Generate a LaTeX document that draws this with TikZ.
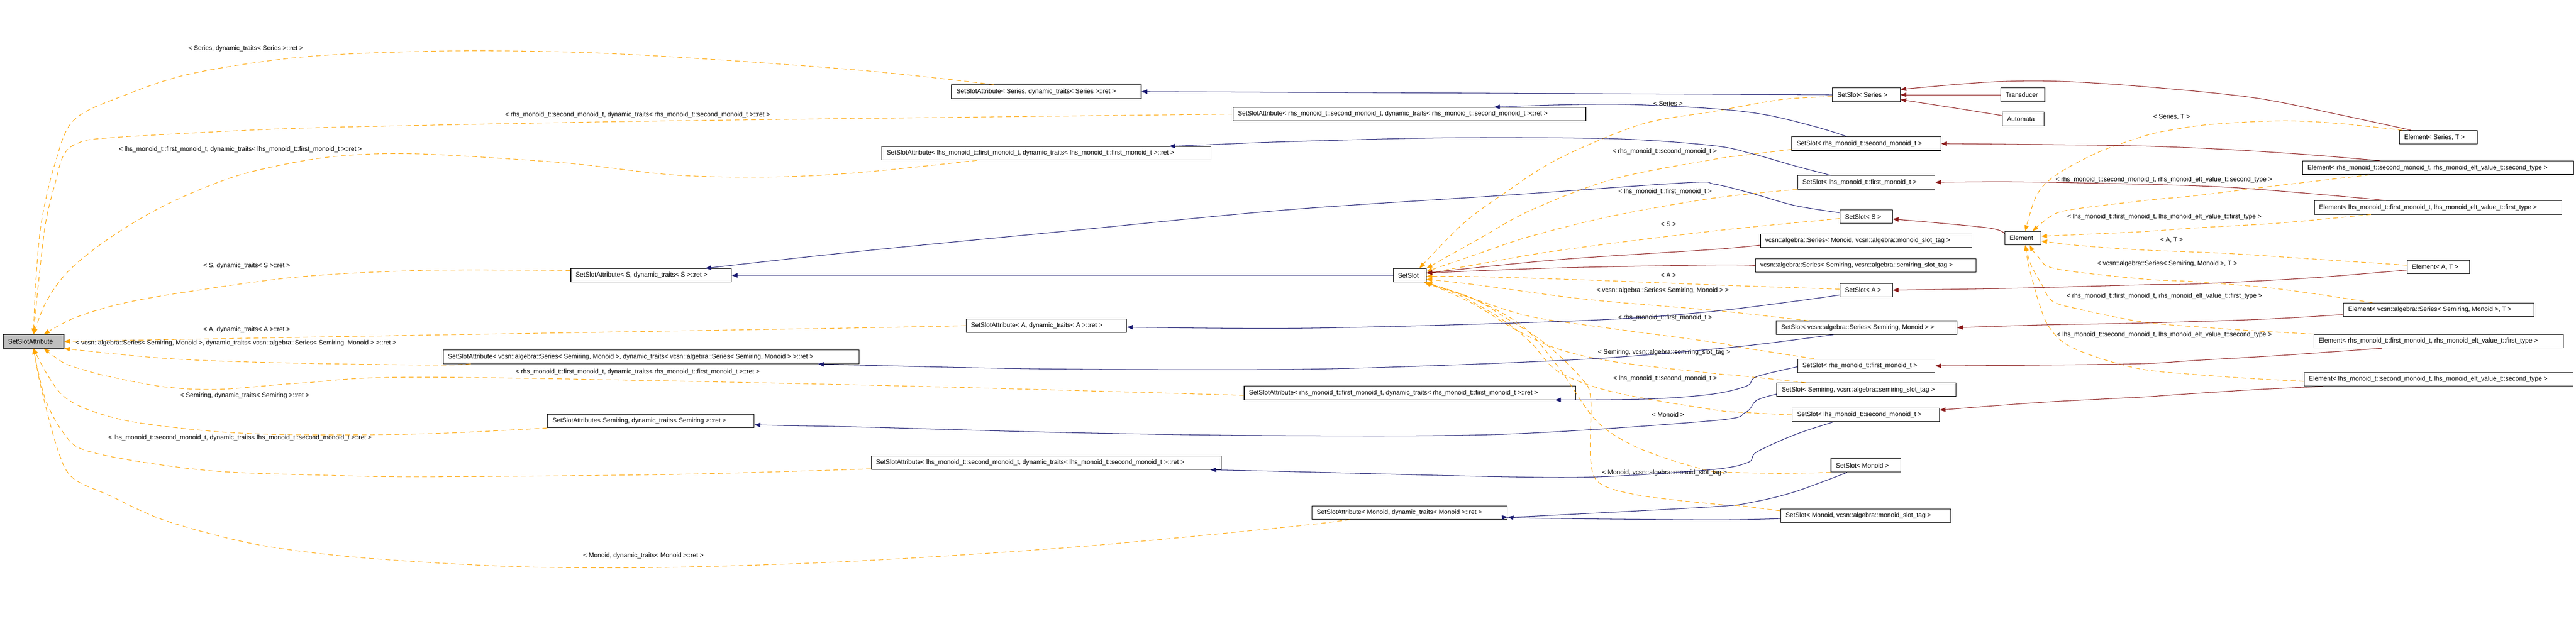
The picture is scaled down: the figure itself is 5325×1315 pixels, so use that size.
\documentclass[tikz,border=0pt]{standalone}
\usepackage{fontspec}
\setmainfont{Liberation Sans}
\usetikzlibrary{arrows.meta}
\definecolor{navyb}{HTML}{191970}
\definecolor{dred}{HTML}{8B1A1A}
\definecolor{orng}{HTML}{FFA500}
\definecolor{gfill}{HTML}{BFBFBF}
\newcommand\nf{\fontsize{13.3}{15}\selectfont}
\newcommand\mynode[6][]{\node[box,#1] (#2) at (#3,#4) {\makebox[#5pt][l]{#6}};}
\begin{document}
\begin{tikzpicture}[x=1pt,y=-1pt,
 box/.style={draw=black, line width=1.2pt, minimum height=28pt, inner xsep=10pt, inner ysep=0pt, font=\nf},
 lbl/.style={font=\nf, inner sep=0pt},
 myarrow/.style={-{Triangle[length=12pt,width=9pt]}},
 tmpl/.style={draw=orng, line width=1.1pt, dash pattern=on 10pt off 7pt, myarrow},
 pub/.style={draw=navyb, line width=1.1pt, myarrow},
 priv/.style={draw=dred, line width=1.1pt, myarrow},
 sm/.style={smooth, tension=0.55}]
\fill[white] (0,0) rectangle (5325,1315);
\useasboundingbox (0,0) rectangle (5325,1315);

% nodes
\mynode[fill=gfill]{base}{69.5}{706}{105}{SetSlotAttribute}
\mynode{SAS}{1346}{569.5}{312}{SetSlotAttribute< S, dynamic\_traits< S >::ret >}
\mynode{SAvcsn}{1346}{738}{840}{SetSlotAttribute< vcsn::algebra::Series< Semiring, Monoid >, dynamic\_traits< vcsn::algebra::Series< Semiring, Monoid > >::ret >}
\mynode{SASemiring}{1345.5}{870.5}{407}{SetSlotAttribute< Semiring, dynamic\_traits< Semiring >::ret >}
\mynode{SASeries}{2163}{189.5}{372}{SetSlotAttribute< Series, dynamic\_traits< Series >::ret >}
\mynode{SArhsB}{2913.5}{236}{709}{SetSlotAttribute< rhs\_monoid\_t::second\_monoid\_t, dynamic\_traits< rhs\_monoid\_t::second\_monoid\_t >::ret >}
\mynode{SAlhsA}{2163}{317}{660}{SetSlotAttribute< lhs\_monoid\_t::first\_monoid\_t, dynamic\_traits< lhs\_monoid\_t::first\_monoid\_t >::ret >}
\mynode{SAA}{2163}{673.5}{312}{SetSlotAttribute< A, dynamic\_traits< A >::ret >}
\mynode{SAlhsB}{2163}{957}{704}{SetSlotAttribute< lhs\_monoid\_t::second\_monoid\_t, dynamic\_traits< lhs\_monoid\_t::second\_monoid\_t >::ret >}
\mynode{SArhsA}{2914.5}{812.5}{665}{SetSlotAttribute< rhs\_monoid\_t::first\_monoid\_t, dynamic\_traits< rhs\_monoid\_t::first\_monoid\_t >::ret >}
\mynode{SAMonoid}{2914}{1060}{384}{SetSlotAttribute< Monoid, dynamic\_traits< Monoid >::ret >}
\mynode{SSlot}{2914}{569.5}{48}{SetSlot}
\mynode{SSSeries}{3858}{196}{120}{SetSlot< Series >}
\mynode{Trans}{4181.5}{196}{71}{Transducer}
\mynode{Autom}{4182}{246}{66}{Automata}
\mynode{SSrhsB}{3858}{297}{288}{SetSlot< rhs\_monoid\_t::second\_monoid\_t >}
\mynode{SSlhsA}{3858}{377}{264}{SetSlot< lhs\_monoid\_t::first\_monoid\_t >}
\mynode{SSS}{3858}{448}{88}{SetSlot< S >}
\mynode{SerMonoid}{3857.5}{498}{417}{vcsn::algebra::Series< Monoid, vcsn::algebra::monoid\_slot\_tag >}
\mynode{SerSemiring}{3857}{549}{436}{vcsn::algebra::Series< Semiring, vcsn::algebra::semiring\_slot\_tag >}
\mynode{SSA}{3858}{600}{88}{SetSlot< A >}
\mynode{Elem}{4181.5}{492.5}{55}{Element}
\mynode{SSvcsn}{3858.5}{677.5}{353}{SetSlot< vcsn::algebra::Series< Semiring, Monoid > >}
\mynode{SSrhsA}{3858}{756.5}{264}{SetSlot< rhs\_monoid\_t::first\_monoid\_t >}
\mynode{SSSemiring}{3858}{806}{350}{SetSlot< Semiring, vcsn::algebra::semiring\_slot\_tag >}
\mynode{SSlhsB}{3857}{858}{284}{SetSlot< lhs\_monoid\_t::second\_monoid\_t >}
\mynode{SSMonoid}{3857}{962.5}{124}{SetSlot< Monoid >}
\mynode{SSMonoidTag}{3857}{1066.5}{332}{SetSlot< Monoid, vcsn::algebra::monoid\_slot\_tag >}
\mynode{ESeries}{5040.5}{284}{141}{Element< Series, T >}
\mynode{ErhsB}{5040}{347}{540}{Element< rhs\_monoid\_t::second\_monoid\_t, rhs\_monoid\_elt\_value\_t::second\_type >}
\mynode{ElhsA}{5040}{429}{492}{Element< lhs\_monoid\_t::first\_monoid\_t, lhs\_monoid\_elt\_value\_t::first\_type >}
\mynode{EA}{5040.5}{552.5}{109}{Element< A, T >}
\mynode{Evcsn}{5041}{640.5}{374}{Element< vcsn::algebra::Series< Semiring, Monoid >, T >}
\mynode{ErhsA}{5041}{705.5}{496}{Element< rhs\_monoid\_t::first\_monoid\_t, rhs\_monoid\_elt\_value\_t::first\_type >}
\mynode{ElhsB}{5041}{784.5}{536}{Element< lhs\_monoid\_t::second\_monoid\_t, lhs\_monoid\_elt\_value\_t::second\_type >}

% template edges into SetSlotAttribute
\draw[tmpl] plot[sm] coordinates {([xshift=-109pt]SASeries.north) (1775,145) (1396,118) (1152,107) (890,106) (624,118) (397,152) (255,198) (153,248) (114,337) (85,463) (73,600) (base.north)};
\draw[tmpl] plot[sm] coordinates {(SArhsB.west) (1775,245) (1316,251) (885,259) (568,267) (227,285) (159,297) (131,322) (114,379) (94,463) (78,600) (base.north)};
\draw[tmpl] plot[sm] coordinates {([xshift=-143pt]SAlhsA.south) (1775,357) (1595,366) (1396,362) (1169,337) (885,319) (738,320) (624,333) (482,366) (340,425) (227,492) (142,560) (95,625) (base.north)};
\draw[tmpl] plot[sm] coordinates {([yshift=10pt]SAS.west) (885,559) (624,572) (397,602) (255,627) (155,657) ([xshift=21pt]base.north)};
\draw[tmpl] plot[sm] coordinates {(SAA.west) (1775,678) (885,693) (base.east)};
\draw[tmpl] plot[sm] coordinates {([xshift=-373pt]SAvcsn.south) (890,755) (568,750) (340,741) (base.south east)};
\draw[tmpl] plot[sm] coordinates {([yshift=-5pt]SArhsA.west) (1775,796) (885,780) (624,792) (454,805) (340,800) (227,779) (170,764) (131,750) ([xshift=21pt]base.south)};
\draw[tmpl] plot[sm] coordinates {(SASemiring.south west) (885,897) (624,899) (454,893) (284,874) (187,849) (131,819) (95,770) (base.south)};
\draw[tmpl] plot[sm] coordinates {([yshift=2pt]SAlhsB.south west) (1396,981) (885,986) (681,983) (454,975) (284,954) (170,929) (131,895) (96,832) (77,760) (base.south)};
\draw[tmpl] plot[sm] coordinates {([xshift=-123pt]SAMonoid.south) (2650,1091) (2224,1131) (1775,1160) (1396,1173) (1112,1173) (885,1163) (681,1147) (511,1122) (340,1076) (227,1025) (150,988) (119,929) (85,802) (base.south)};

\node[lbl] (l1) at (508,100) {< Series, dynamic\_traits< Series >::ret >};
\node[lbl] (l2) at (1318,238) {< rhs\_monoid\_t::second\_monoid\_t, dynamic\_traits< rhs\_monoid\_t::second\_monoid\_t >::ret >};
\node[lbl] (l3) at (497,309) {< lhs\_monoid\_t::first\_monoid\_t, dynamic\_traits< lhs\_monoid\_t::first\_monoid\_t >::ret >};
\node[lbl] (l4) at (510,550) {< S, dynamic\_traits< S >::ret >};
\node[lbl] (l5) at (510,682) {< A, dynamic\_traits< A >::ret >};
\node[lbl] (l6) at (488,710) {< vcsn::algebra::Series< Semiring, Monoid >, dynamic\_traits< vcsn::algebra::Series< Semiring, Monoid > >::ret >};
\node[lbl] (l7) at (1318,769) {< rhs\_monoid\_t::first\_monoid\_t, dynamic\_traits< rhs\_monoid\_t::first\_monoid\_t >::ret >};
\node[lbl] (l8) at (506,818) {< Semiring, dynamic\_traits< Semiring >::ret >};
\node[lbl] (l9) at (496,906) {< lhs\_monoid\_t::second\_monoid\_t, dynamic\_traits< lhs\_monoid\_t::second\_monoid\_t >::ret >};
\node[lbl] (l10) at (1330,1149) {< Monoid, dynamic\_traits< Monoid >::ret >};

% template edges into SetSlot
\draw[tmpl] plot[sm] coordinates {([yshift=-4pt]SSSeries.west) (3682,206) (3540,231) (3393,257) (3222,328) (3109,400) (3024,463) ([xshift=20pt]SSlot.north)};
\draw[tmpl] plot[sm] coordinates {([yshift=-12pt]SSrhsB.west) (3614,320) (3540,330) (3336,370) (3166,434) (3052,497) (SSlot.north east)};
\draw[tmpl] plot[sm] coordinates {(SSlhsA.south west) (3540,410) (3336,446) (3166,488) (3052,526) ([yshift=8pt]SSlot.east)};
\draw[tmpl] plot[sm] coordinates {([yshift=-4pt]SSS.west) (3540,478) (3222,518) (3052,547) ([yshift=4pt]SSlot.east)};
\draw[tmpl] plot[sm] coordinates {([yshift=2pt]SSA.west) (3653,593) (3540,589) (3279,579) (3052,572) ([yshift=-2pt]SSlot.east)};
\draw[tmpl] plot[sm] coordinates {([xshift=-120pt]SSvcsn.north) (3682,657) (3545,642) (3279,619) (3052,589) ([yshift=-8pt]SSlot.east)};
\draw[tmpl] plot[sm] coordinates {([xshift=-108pt]SSrhsA.north) (3597,718) (3545,708) (3336,680) (3166,655) (3052,620) (2990,598) (SSlot.south east)};
\draw[tmpl] plot[sm] coordinates {([xshift=-125pt]SSSemiring.north) (3597,777) (3540,772) (3336,748) (3222,722) (3137,684) (3052,632) (2985,600) ([xshift=-4pt]SSlot.south east)};
\draw[tmpl] plot[sm] coordinates {(SSlhsB.west) (3608,853) (3540,847) (3336,811) (3222,769) (3166,710) (3109,663) (3020,612) ([xshift=-4pt]SSlot.south east)};
\draw[tmpl] plot[sm] coordinates {(SSMonoid.south west) (3682,979) (3580,977) (3540,975) (3450,950) (3365,916) (3296,866) (3222,760) (3149,676) (3050,620) ([xshift=-4pt]SSlot.south east)};
\draw[tmpl] plot[sm] coordinates {([yshift=10pt]SSMonoidTag.west) (3597,1046) (3540,1042) (3393,1025) (3308,1000) (3288,950) (3288,823) (3268,781) (3194,710) (3109,655) (3040,615) ([xshift=-4pt]SSlot.south east)};

\node[lbl] (m1) at (3448,214) {< Series >};
\node[lbl] (m2) at (3441,313) {< rhs\_monoid\_t::second\_monoid\_t >};
\node[lbl] (m3) at (3442,396) {< lhs\_monoid\_t::first\_monoid\_t >};
\node[lbl] (m4) at (3449,464) {< S >};
\node[lbl] (m5) at (3449,569) {< A >};
\node[lbl] (m6) at (3437,601) {< vcsn::algebra::Series< Semiring, Monoid > >};
\node[lbl] (m7) at (3442,657) {< rhs\_monoid\_t::first\_monoid\_t >};
\node[lbl] (m8) at (3440,729) {< Semiring, vcsn::algebra::semiring\_slot\_tag >};
\node[lbl] (m9) at (3442,783) {< lhs\_monoid\_t::second\_monoid\_t >};
\node[lbl] (m10) at (3448,857) {< Monoid >};
\node[lbl] (m11) at (3441,978) {< Monoid, vcsn::algebra::monoid\_slot\_tag >};

% template edges into Element
\draw[tmpl] plot[sm] coordinates {([xshift=-74pt]ESeries.north) (4830,255) (4715,250) (4573,257) (4487,269) (4430,282) (4335,316) (4250,362) (4210,404) ([xshift=5pt]Elem.north)};
\draw[tmpl] plot[sm] coordinates {([xshift=-142pt]ErhsB.south) (4715,383) (4544,404) (4430,415) (4278,434) (4238,448) ([xshift=20pt]Elem.north)};
\draw[tmpl] plot[sm] coordinates {([xshift=-139pt]ElhsA.south) (4715,461) (4544,471) (4430,479) (4300,485) ([yshift=4pt]Elem.east)};
\draw[tmpl] plot[sm] coordinates {([yshift=4pt]EA.west) (4772,535) (4601,524) (4430,517) (4300,508) ([yshift=-6pt]Elem.east)};
\draw[tmpl] plot[sm] coordinates {([xshift=-137pt]Evcsn.north) (4715,598) (4544,583) (4430,577) (4250,556) (4212,530) ([xshift=14pt]Elem.south)};
\draw[tmpl] plot[sm] coordinates {(ErhsA.north west) (4658,684) (4544,676) (4430,666) (4300,640) (4243,623) (4221,589) (4198,547) ([xshift=5pt]Elem.south)};
\draw[tmpl] plot[sm] coordinates {([yshift=-4pt]ElhsB.west) (4658,783) (4544,775) (4430,764) (4335,739) (4268,710) (4233,672) (4216,630) (4204,589) (4193,547) ([xshift=5pt]Elem.south)};

\node[lbl] (n1) at (4489,242) {< Series, T >};
\node[lbl] (n2) at (4473,372) {< rhs\_monoid\_t::second\_monoid\_t, rhs\_monoid\_elt\_value\_t::second\_type >};
\node[lbl] (n3) at (4474,449) {< lhs\_monoid\_t::first\_monoid\_t, lhs\_monoid\_elt\_value\_t::first\_type >};
\node[lbl] (n4) at (4489,496) {< A, T >};
\node[lbl] (n5) at (4480,546) {< vcsn::algebra::Series< Semiring, Monoid >, T >};
\node[lbl] (n6) at (4474,613) {< rhs\_monoid\_t::first\_monoid\_t, rhs\_monoid\_elt\_value\_t::first\_type >};
\node[lbl] (n7) at (4474,693) {< lhs\_monoid\_t::second\_monoid\_t, lhs\_monoid\_elt\_value\_t::second\_type >};

% dark red edges
\draw[priv] (Trans.west) -- (SSSeries.east);
\draw[priv] plot[sm] coordinates {([yshift=7pt]Autom.west) (4051,225) ([yshift=-10pt]SSSeries.east)};
\draw[priv] plot[sm] coordinates {([xshift=-56pt]ESeries.north) (4830,236) (4658,202) (4430,179) (4250,168) (4108,170) ([yshift=11pt]SSSeries.east)};
\draw[priv] plot[sm] coordinates {([xshift=-119pt]ErhsB.north) (4772,320) (4601,309) (4430,302) (4221,299) (SSrhsB.east)};
\draw[priv] plot[sm] coordinates {([xshift=-108pt]ElhsA.north) (4772,400) (4601,387) (4430,381) (4164,376) (SSlhsA.east)};
\draw[priv] plot[sm] coordinates {([yshift=9pt]Elem.west) (4108,471) ([yshift=-5pt]SSS.east)};
\draw[priv] plot[sm] coordinates {([yshift=-6pt]EA.west) (4772,575) (4544,587) (4430,589) (4164,596) (SSA.east)};
\draw[priv] plot[sm] coordinates {([yshift=-10pt]Evcsn.west) (4681,660) (4430,668) (4221,672) (SSvcsn.east)};
\draw[priv] plot[sm] coordinates {([xshift=-117pt]ErhsA.south) (4715,735) (4544,745) (4430,752) (4221,755) (SSrhsA.east)};
\draw[priv] plot[sm] coordinates {([xshift=-240pt]ElhsB.south) (4658,806) (4487,817) (4430,821) (4221,832) ([yshift=10pt]SSlhsB.east)};
\draw[priv] plot[sm] coordinates {([yshift=-9pt]SerMonoid.west) (3540,516) (3222,537) ([yshift=5pt]SSlot.east)};
\draw[priv] plot[sm] coordinates {(SerSemiring.west) (3540,548) (3222,554) ([yshift=5pt]SSlot.east)};

% public inheritance edges
\draw[pub] (SSSeries.west) -- (SASeries.east);
\draw[pub] plot[sm] coordinates {([xshift=-40pt]SSrhsB.north) (3756,263) (3653,238) (3545,225) (3364,216) (3222,217) ([xshift=175pt]SArhsB.north)};
\draw[pub] plot[sm] coordinates {([xshift=-74pt]SSlhsA.north) (3710,343) (3622,318) (3540,301) (3336,287) (2996,285) (2660,293) (2508,299) ([xshift=254pt]SAlhsA.north)};
\draw[pub] plot[sm] coordinates {([yshift=8pt]SSS.west) (3710,425) (3622,400) (3545,381) (3484,378) (3109,404) (2660,434) (2224,476) (1775,520) ([xshift=112pt]SAS.north)};
\draw[pub] (SSlot.west) -- (SAS.east);
\draw[pub] plot[sm] coordinates {([yshift=-10pt]SSA.west) (3710,623) (3540,644) (3336,660) (2996,672) (2655,679) ([yshift=-3pt]SAA.east)};
\draw[pub] plot[sm] coordinates {([xshift=-68pt]SSvcsn.south) (3653,710) (3540,722) (3308,741) (2996,755) (2660,764) (2167,763) (1775,755) ([xshift=345pt]SAvcsn.south)};
\draw[pub] plot[sm] coordinates {([yshift=-2pt]SSrhsA.west) (3631,779) (3611,798) (3540,815) (3410,825) ([xshift=300pt]SArhsA.south)};
\draw[pub] plot[sm] coordinates {([yshift=-9pt]SSSemiring.west) (3631,828) (3608,853) (3540,870) (3109,898) (2660,901) (2224,895) (1775,883) (1623,880) ([yshift=-8pt]SASemiring.east)};
\draw[pub] plot[sm] coordinates {([xshift=-67pt]SSlhsB.south) (3710,899) (3631,935) (3614,956) (3540,971) (3308,986) (3109,986) (2655,975) ([xshift=339pt]SAlhsB.south)};
\draw[pub] plot[sm] coordinates {([xshift=-39pt]SSMonoid.south) (3710,1017) (3625,1038) (3540,1048) (3160,1068) ([yshift=-9pt]SAMonoid.east)};
\draw[pub] plot[sm] coordinates {([yshift=-6pt]SSMonoidTag.west) (3540,1075) (3194,1072) ([yshift=-9pt]SAMonoid.east)};
\end{tikzpicture}
\end{document}
